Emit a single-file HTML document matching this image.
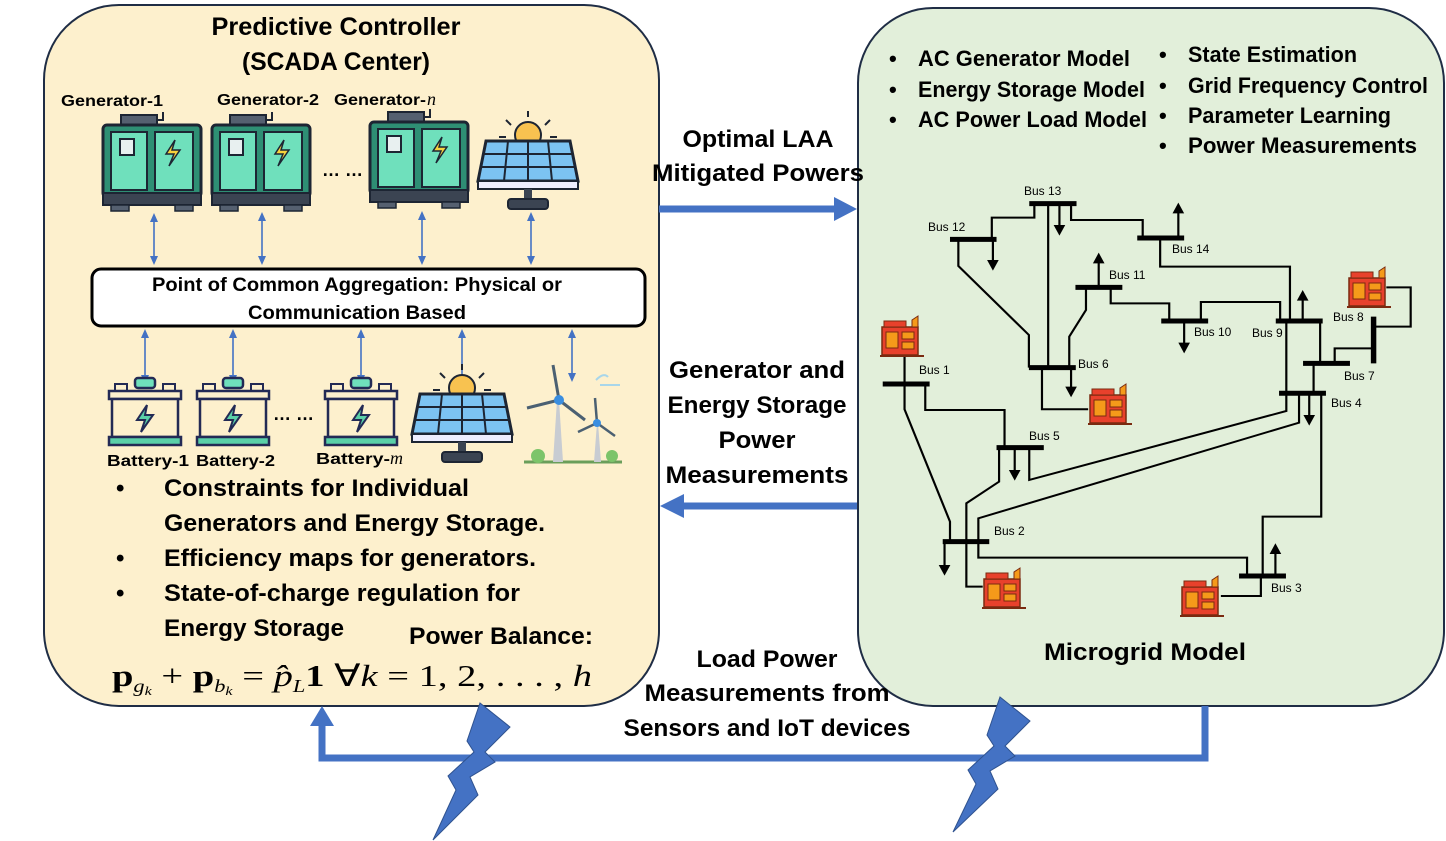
<!DOCTYPE html>
<html><head><meta charset="utf-8"><style>
html,body{margin:0;padding:0;background:#fff;}
svg{display:block;}
text{font-family:"Liberation Sans",sans-serif;font-weight:bold;fill:#000;}
.b{font-weight:normal;font-size:12px;}
.m{font-family:"Liberation Serif",serif;font-weight:normal;}
</style></head><body>
<svg width="1446" height="841" viewBox="0 0 1446 841" xmlns="http://www.w3.org/2000/svg">
<defs>
<g id="gen">
 <rect x="18" y="0" width="36" height="10" fill="#556070" stroke="#1d2533" stroke-width="2"/>
 <path d="M54 5 h6 v-8" stroke="#1d2533" stroke-width="2" fill="none"/>
 <rect x="0" y="10" width="98" height="72" rx="4" fill="#2e8f74" stroke="#1d2533" stroke-width="3"/>
 <rect x="8" y="17" width="36" height="58" fill="#6fe0bc" stroke="#1d2533" stroke-width="2"/>
 <rect x="52" y="17" width="38" height="58" fill="#6fe0bc" stroke="#1d2533" stroke-width="2"/>
 <rect x="17" y="24" width="14" height="16" fill="#e8f0f0" stroke="#1d2533" stroke-width="2"/>
 <path d="M72 25 l-9 14 h8 l-5 12 l11 -16 h-8 z" fill="#f7d23c" stroke="#1d2533" stroke-width="1.5"/>
 <rect x="0" y="78" width="98" height="12" fill="#3b4452" stroke="#1d2533" stroke-width="2"/>
 <rect x="8" y="90" width="18" height="6" fill="#556070" stroke="#1d2533" stroke-width="1.5"/>
 <rect x="72" y="90" width="18" height="6" fill="#556070" stroke="#1d2533" stroke-width="1.5"/>
</g>
<g id="sol">
 <circle cx="50" cy="18" r="13" fill="#f8c250" stroke="#1d2533" stroke-width="2"/>
 <path d="M50 0v-6M33 8l-5-5M67 8l5-5M28 20h-7M72 20h7" stroke="#1d2533" stroke-width="2"/>
 <path d="M8 24 h84 l8 40 h-100 z" fill="#7cc3f2" stroke="#1d2533" stroke-width="3"/>
 <path d="M5 37h90M3 50h94M30 24l-4 40M50 24v40M70 24l4 40" stroke="#1d2533" stroke-width="2"/>
 <rect x="0" y="64" width="100" height="8" fill="#eef" stroke="#1d2533" stroke-width="2"/>
 <rect x="46" y="72" width="8" height="10" fill="#3b4452"/>
 <rect x="30" y="82" width="40" height="10" rx="3" fill="#3b4452" stroke="#1d2533" stroke-width="2"/>
</g>
<g id="bat">
 <rect x="28" y="0" width="20" height="10" rx="3" fill="#6fe0bc" stroke="#232a55" stroke-width="2.5"/>
 <rect x="8" y="6" width="12" height="7" fill="#fdf0cd" stroke="#232a55" stroke-width="2"/>
 <rect x="56" y="6" width="12" height="7" fill="#fdf0cd" stroke="#232a55" stroke-width="2"/>
 <rect x="2" y="13" width="72" height="8" fill="#fdf0cd" stroke="#232a55" stroke-width="2.5"/>
 <rect x="5" y="21" width="66" height="38" fill="#fdf0cd" stroke="#232a55" stroke-width="2.5"/>
 <path d="M40 27 l-10 15 h8 l-4 12 l12 -17 h-8 z" fill="#5ad0a8" stroke="#232a55" stroke-width="2"/>
 <rect x="2" y="59" width="72" height="8" fill="#5ad0a8" stroke="#232a55" stroke-width="2.5"/>
</g>
<g id="rg">
 <rect x="2" y="12" width="36" height="28" fill="#e8412c" stroke="#7a2a10" stroke-width="1.5"/>
 <rect x="6" y="17" width="12" height="16" fill="#f59a1a" stroke="#7a2a10"/>
 <rect x="22" y="17" width="12" height="7" fill="#f59a1a" stroke="#7a2a10"/>
 <rect x="22" y="27" width="12" height="7" fill="#f59a1a" stroke="#7a2a10"/>
 <rect x="4" y="6" width="22" height="6" fill="#e8412c" stroke="#7a2a10"/>
 <path d="M32 12 v-7 l6 -4 v11z" fill="#f59a1a" stroke="#7a2a10"/>
 <path d="M0 41h44" stroke="#7a2a10" stroke-width="2"/>
</g>
<g id="da">
 <line x1="0" y1="6" x2="0" y2="-6" stroke="#4472c4" stroke-width="1.6"/>
</g>
</defs>

<!-- panels -->
<rect x="44" y="5" width="615" height="701" rx="75" fill="#fdf0cd" stroke="#1f2d45" stroke-width="2"/>
<rect x="858" y="8" width="586" height="698" rx="75" fill="#e2efda" stroke="#1f2d45" stroke-width="2"/>

<!-- left titles -->
<text x="336" y="35" font-size="25" text-anchor="middle" textLength="249" lengthAdjust="spacingAndGlyphs">Predictive Controller</text>
<text x="336" y="70" font-size="25" text-anchor="middle" textLength="188" lengthAdjust="spacingAndGlyphs">(SCADA Center)</text>
<text x="61" y="106" font-size="16" textLength="102" lengthAdjust="spacingAndGlyphs">Generator-1</text>
<text x="217" y="105" font-size="16" textLength="102" lengthAdjust="spacingAndGlyphs">Generator-2</text>
<text x="334" y="105" font-size="16" textLength="92" lengthAdjust="spacingAndGlyphs">Generator-</text><text class="m" x="427" y="105" font-size="18" font-style="italic">n</text>

<use href="#gen" x="103" y="115"/>
<use href="#gen" x="212" y="115"/>
<use href="#gen" x="370" y="112"/>
<text x="322" y="176" font-size="18">… …</text>
<use href="#sol" x="478" y="117"/>

<!-- blue double arrows -->
<g stroke="#4472c4" stroke-width="1.6">
<line x1="154" y1="217" x2="154" y2="261"/><line x1="262" y1="216" x2="262" y2="261"/>
<line x1="422" y1="215" x2="422" y2="261"/><line x1="531" y1="216" x2="531" y2="261"/>
<line x1="145" y1="333" x2="145" y2="380"/><line x1="233" y1="333" x2="233" y2="380"/>
<line x1="361" y1="333" x2="361" y2="380"/><line x1="462" y1="333" x2="462" y2="380"/>
<line x1="572" y1="333" x2="572" y2="378"/>
</g>
<g fill="#4472c4">
<path d="M150 222 L154 213 L158 222z M150 256 L154 265 L158 256z"/>
<path d="M258 221 L262 212 L266 221z M258 256 L262 265 L266 256z"/>
<path d="M418 220 L422 211 L426 220z M418 256 L422 265 L426 256z"/>
<path d="M527 221 L531 212 L535 221z M527 256 L531 265 L535 256z"/>
<path d="M141 338 L145 329 L149 338z M141 375 L145 384 L149 375z"/>
<path d="M229 338 L233 329 L237 338z M229 375 L233 384 L237 375z"/>
<path d="M357 338 L361 329 L365 338z M357 375 L361 384 L365 375z"/>
<path d="M458 338 L462 329 L466 338z M458 375 L462 384 L466 375z"/>
<path d="M568 338 L572 329 L576 338z M568 373 L572 382 L576 373z"/>
</g>

<rect x="92" y="269" width="553" height="57" rx="9" fill="#fff" stroke="#000" stroke-width="3"/>
<text x="357" y="291" font-size="19" text-anchor="middle" textLength="410" lengthAdjust="spacingAndGlyphs">Point of Common Aggregation: Physical or</text>
<text x="357" y="319" font-size="19" text-anchor="middle" textLength="218" lengthAdjust="spacingAndGlyphs">Communication Based</text>

<use href="#bat" x="107" y="378"/>
<use href="#bat" x="195" y="378"/>
<use href="#bat" x="323" y="378"/>
<text x="273" y="420" font-size="18">… …</text>
<use href="#sol" x="412" y="370"/>
<!-- wind -->
<g>
 <path d="M524 462 h98" stroke="#6a9e5a" stroke-width="3"/>
 <circle cx="538" cy="456" r="7" fill="#7cc46a"/><circle cx="612" cy="456" r="6" fill="#7cc46a"/>
 <path d="M557 400 l-4 62 h10 l-4 -62z" fill="#c8ccd2"/>
 <path d="M597 423 l-3 39 h7 l-3 -39z" fill="#c8ccd2"/>
 <path d="M559 400 L553 365 M559 400 L527 408 M559 400 L585 420" stroke="#4b6072" stroke-width="3"/>
 <path d="M597 423 L595 398 M597 423 L578 432 M597 423 L615 436" stroke="#4b6072" stroke-width="2.5"/>
 <circle cx="559" cy="400" r="5" fill="#3a8ee0"/><circle cx="597" cy="423" r="4" fill="#3a8ee0"/>
 <path d="M596 380 q8 -8 12 -3 M600 385 h20" stroke="#a8d6ea" stroke-width="2" fill="none"/>
</g>
<text x="107" y="466" font-size="16" textLength="82" lengthAdjust="spacingAndGlyphs">Battery-1</text>
<text x="196" y="466" font-size="16" textLength="79" lengthAdjust="spacingAndGlyphs">Battery-2</text>
<text x="316" y="464" font-size="16" textLength="74" lengthAdjust="spacingAndGlyphs">Battery-</text><text class="m" x="390" y="464" font-size="18" font-style="italic">m</text>

<!-- left bullets -->
<g font-size="24">
<text x="116" y="496">•</text><text x="164" y="496" textLength="305" lengthAdjust="spacingAndGlyphs">Constraints for Individual</text>
<text x="164" y="531" textLength="381" lengthAdjust="spacingAndGlyphs">Generators and Energy Storage.</text>
<text x="116" y="566">•</text><text x="164" y="566" textLength="372" lengthAdjust="spacingAndGlyphs">Efficiency maps for generators.</text>
<text x="116" y="601">•</text><text x="164" y="601" textLength="356" lengthAdjust="spacingAndGlyphs">State-of-charge regulation for</text>
<text x="164" y="636" textLength="180" lengthAdjust="spacingAndGlyphs">Energy Storage</text>
<text x="409" y="644" textLength="184" lengthAdjust="spacingAndGlyphs">Power Balance:</text>
</g>
<text class="m" x="112" y="686" font-size="31" textLength="480" lengthAdjust="spacingAndGlyphs"><tspan style="font-weight:bold">p</tspan><tspan font-style="italic" font-size="18" dy="6">g</tspan><tspan font-style="italic" font-size="13" dy="3">k</tspan><tspan dy="-9"> + </tspan><tspan style="font-weight:bold">p</tspan><tspan font-style="italic" font-size="18" dy="6">b</tspan><tspan font-style="italic" font-size="13" dy="3">k</tspan><tspan dy="-9"> = </tspan><tspan font-style="italic">p̂</tspan><tspan font-style="italic" font-size="18" dy="6">L</tspan><tspan style="font-weight:bold" dy="-6">1</tspan><tspan>  ∀</tspan><tspan font-style="italic">k</tspan><tspan> = 1, 2, . . . , </tspan><tspan font-style="italic">h</tspan></text>

<!-- middle -->
<g font-size="24" text-anchor="middle">
<text x="758" y="147" textLength="151" lengthAdjust="spacingAndGlyphs">Optimal LAA</text>
<text x="758" y="181" textLength="212" lengthAdjust="spacingAndGlyphs">Mitigated Powers</text>
<text x="757" y="378" textLength="176" lengthAdjust="spacingAndGlyphs">Generator and</text>
<text x="757" y="413" textLength="179" lengthAdjust="spacingAndGlyphs">Energy Storage</text>
<text x="757" y="448" textLength="77" lengthAdjust="spacingAndGlyphs">Power</text>
<text x="757" y="483" textLength="183" lengthAdjust="spacingAndGlyphs">Measurements</text>
<text x="767" y="667" textLength="141" lengthAdjust="spacingAndGlyphs">Load Power</text>
<text x="767" y="701" textLength="245" lengthAdjust="spacingAndGlyphs">Measurements from</text>
<text x="767" y="736" textLength="287" lengthAdjust="spacingAndGlyphs">Sensors and IoT devices</text>
<text x="1145" y="660" textLength="202" lengthAdjust="spacingAndGlyphs">Microgrid Model</text>
</g>

<!-- big arrows -->
<path d="M659 209 H836" stroke="#4472c4" stroke-width="7"/>
<path d="M834 197 L857 209 L834 221 z" fill="#4472c4"/>
<path d="M857 506 H682" stroke="#4472c4" stroke-width="7"/>
<path d="M684 494 L660 506 L684 518 z" fill="#4472c4"/>
<path d="M1205 706 V758 H322 V724" stroke="#4472c4" stroke-width="7" fill="none"/>
<path d="M310 726 L322 706 L334 726 z" fill="#4472c4"/>
<polygon points="480,703 510,727 485,752 495,762 470,777 478,795 433,840 456,790 448,776 474,752 467,741" fill="#4472c4" stroke="#2f528f" stroke-width="1"/>
<polygon points="1000,697 1030,721 1005,746 1015,756 990,771 998,789 953,832 976,784 968,770 994,746 987,735" fill="#4472c4" stroke="#2f528f" stroke-width="1"/>

<!-- right bullets -->
<g font-size="22">
<text x="889" y="66">•</text><text x="918" y="66" textLength="212" lengthAdjust="spacingAndGlyphs">AC Generator Model</text>
<text x="889" y="97">•</text><text x="918" y="97" textLength="227" lengthAdjust="spacingAndGlyphs">Energy Storage Model</text>
<text x="889" y="127">•</text><text x="918" y="127" textLength="229" lengthAdjust="spacingAndGlyphs">AC Power Load Model</text>
<text x="1159" y="62">•</text><text x="1188" y="62" textLength="169" lengthAdjust="spacingAndGlyphs">State Estimation</text>
<text x="1159" y="93">•</text><text x="1188" y="93" textLength="240" lengthAdjust="spacingAndGlyphs">Grid Frequency Control</text>
<text x="1159" y="123">•</text><text x="1188" y="123" textLength="203" lengthAdjust="spacingAndGlyphs">Parameter Learning</text>
<text x="1159" y="153">•</text><text x="1188" y="153" textLength="229" lengthAdjust="spacingAndGlyphs">Power Measurements</text>
</g>

<!-- network -->
<g transform="translate(870,180) scale(0.3636,0.3333)" fill="none" stroke="#000">
 <g stroke-width="6">
 <path d="M452 71 V113 H335 V178"/>
 <path d="M490 71 V563"/>
 <path d="M553 71 V120 H750 V174"/>
 <path d="M798 174 V260 H1155 V423"/>
 <path d="M243 178 V258 L437 465 V563"/>
 <path d="M594 322 V390 L548 470 V563"/>
 <path d="M662 322 V370 H823 V423"/>
 <path d="M910 423 V366 H1128 V423"/>
 <path d="M1238 423 V550"/>
 <path d="M1145 423 V693 L438 900 V803"/>
 <path d="M1420 322 H1487 V440 H1385"/>
 <path d="M1385 505 H1278 V550"/>
 <path d="M1220 550 V640"/>
 <path d="M473 563 V688 H600"/>
 <path d="M1180 640 V728 L298 1015 V1085"/>
 <path d="M1241 640 V1010 H1080 V1188"/>
 <path d="M95 520 V612"/>
 <path d="M95 612 V688 L220 1025 V1085"/>
 <path d="M152 612 V690 H370 V803"/>
 <path d="M355 803 V905 L265 970 V1220 H310"/>
 <path d="M298 1085 V1133 H1037 V1188"/>
 <path d="M1075 1188 V1248 H965"/>
 <path d="M521 71 V140"/><path d="M338 178 V245"/><path d="M848 174 V95"/>
 <path d="M629 322 V245"/><path d="M864 423 V493"/><path d="M1190 423 V357"/>
 <path d="M553 563 V625"/><path d="M1208 640 V710"/><path d="M398 803 V875"/>
 <path d="M205 1085 V1160"/><path d="M1115 1188 V1117"/>
 </g>
 <g fill="#000" stroke="none">
 <path d="M505 135 h32 l-16 32z"/><path d="M322 240 h32 l-16 32z"/><path d="M832 100 h32 l-16 -32z"/>
 <path d="M613 250 h32 l-16 -32z"/><path d="M848 488 h32 l-16 32z"/><path d="M1174 362 h32 l-16 -32z"/>
 <path d="M537 620 h32 l-16 32z"/><path d="M1192 705 h32 l-16 32z"/><path d="M382 870 h32 l-16 32z"/>
 <path d="M189 1155 h32 l-16 32z"/><path d="M1099 1122 h32 l-16 -32z"/>
 </g>
 <g stroke-width="15">
 <path d="M438 71 H568"/><path d="M220 178 H348"/><path d="M735 174 H864"/><path d="M565 322 H694"/>
 <path d="M801 423 H930"/><path d="M1116 423 H1245"/><path d="M1191 550 H1320"/><path d="M437 563 H566"/>
 <path d="M35 612 H164"/><path d="M1125 640 H1254"/><path d="M348 803 H478"/><path d="M200 1085 H328"/>
 <path d="M1015 1188 H1144"/><path d="M1385 410 V550"/>
 </g>
</g>
<use href="#rg" x="880" y="315"/>
<use href="#rg" x="1347" y="266"/>
<use href="#rg" x="1088" y="383"/>
<use href="#rg" x="982" y="567"/>
<use href="#rg" x="1180" y="575"/>
<g>
<text class="b" x="1024" y="195">Bus 13</text><text class="b" x="928" y="231">Bus 12</text>
<text class="b" x="1172" y="253">Bus 14</text><text class="b" x="1109" y="279">Bus 11</text>
<text class="b" x="1194" y="336">Bus 10</text><text class="b" x="1252" y="337">Bus 9</text>
<text class="b" x="1333" y="321">Bus 8</text><text class="b" x="1078" y="368">Bus 6</text>
<text class="b" x="919" y="374">Bus 1</text><text class="b" x="1344" y="380">Bus 7</text>
<text class="b" x="1331" y="407">Bus 4</text><text class="b" x="1029" y="440">Bus 5</text>
<text class="b" x="994" y="535">Bus 2</text><text class="b" x="1271" y="592">Bus 3</text>
</g>
</svg>
</body></html>
